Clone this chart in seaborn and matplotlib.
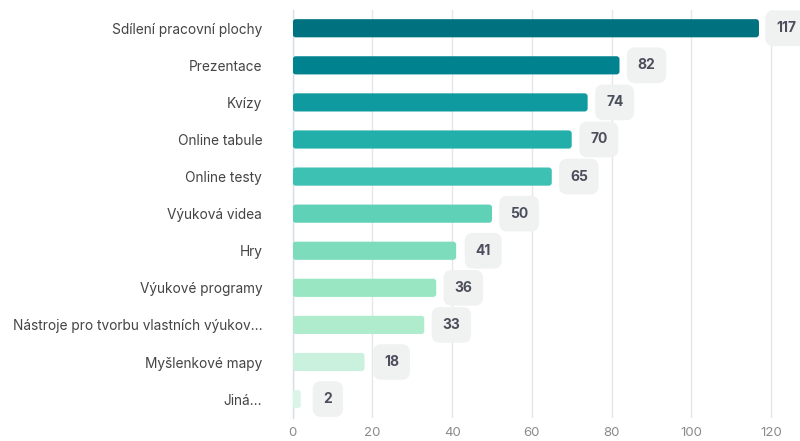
import matplotlib
matplotlib.use("Agg")
import matplotlib.pyplot as plt
import seaborn as sns
import pandas as pd
from matplotlib.patches import FancyBboxPatch

categories = ["Sdílení pracovní plochy", "Prezentace", "Kvízy", "Online tabule",
              "Online testy", "Výuková videa", "Hry", "Výukové programy",
              "Nástroje pro tvorbu vlastních výukov...", "Myšlenkové mapy", "Jiná..."]
values = [117, 82, 74, 70, 65, 50, 41, 36, 33, 18, 2]
colors = ["#00717F", "#00838F", "#0E9A9E", "#22AFA9", "#3DC1B2", "#5ED1B7",
          "#7CDCBC", "#99E6C3", "#AFEBCD", "#C9F1DD", "#DAF5E8"]
xticks = [0, 20, 40, 60, 80, 100, 120]

sns.set_theme(style="white")
plt.rcParams['font.family'] = ['Inter', 'DejaVu Sans']

df = pd.DataFrame({"cat": categories, "val": values})
fig = plt.figure(figsize=(8, 4.41), dpi=100)
ax = fig.add_axes([0.366, 0.053, 0.634, 0.925])

sns.barplot(data=df, x="val", y="cat", hue="cat", palette=colors, legend=False,
            width=0.49, ax=ax, orient="h", saturation=1)

ax.set_xlim(0, 127.3)
ax.set_xticks(xticks)
ax.grid(axis="x", color="#e6e6e6", linewidth=1)
ax.set_axisbelow(True)
for s in ["top", "right", "bottom"]:
    ax.spines[s].set_visible(False)
ax.spines["left"].set_color("#d6dde8")
ax.spines["left"].set_linewidth(1)
ax.set_xlabel("")
ax.set_ylabel("")
ax.tick_params(axis="x", length=0, pad=7, labelcolor="#8a8a8a", labelsize=9.5)
ax.tick_params(axis="y", length=0, pad=22, labelcolor="#444444", labelsize=9.85)

# rounded bars
px_per_x = (0.634 * 800) / 127.3
px_per_y = (0.925 * 441) / 11.0
aspect = px_per_x / px_per_y
for p in list(ax.patches):
    x, y, w, h = p.get_x(), p.get_y(), p.get_width(), p.get_height()
    fc = p.get_facecolor()
    p.set_visible(False)
    r = 3.0 / px_per_x
    fb = FancyBboxPatch((x, y), w, h, boxstyle=f"round,pad=0,rounding_size={min(r, w/2)}",
                        mutation_aspect=aspect, facecolor=fc, edgecolor="none", zorder=3)
    ax.add_patch(fb)

for i, v in enumerate(values):
    ax.annotate(str(v), xy=(v, i), xytext=(19.5, 0), textcoords="offset points",
                ha="center", va="center", fontsize=10, fontweight="bold", color="#4b4f5c",
                bbox=dict(boxstyle="round,pad=0.78,rounding_size=0.6", fc="#f0f1f1", ec="none"),
                annotation_clip=False, zorder=5)

fig.savefig("out.png", dpi=100)
